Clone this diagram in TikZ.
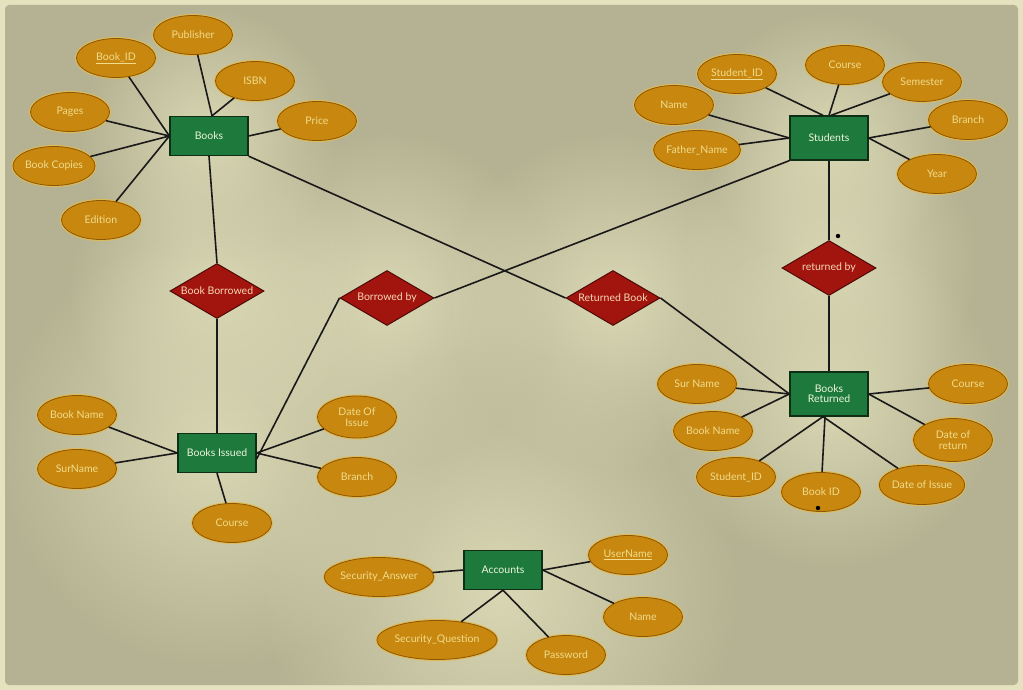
\documentclass[tikz,border=0pt]{standalone}
\usepackage{fontspec}
\setmainfont{Lato}
\usetikzlibrary{shapes.geometric,fadings}

\definecolor{bgframe}{HTML}{E6E2C0}
\definecolor{bgmid}{HTML}{B5B293}
\definecolor{bglight}{HTML}{DAD7B4}
\definecolor{entfill}{HTML}{1E7A3C}
\definecolor{entbd}{HTML}{0E2E16}
\definecolor{enttext}{HTML}{ECF4DC}
\definecolor{attrfill}{HTML}{C8870F}
\definecolor{attrbd}{HTML}{8E5606}
\definecolor{attrglow}{HTML}{DDBB55}
\definecolor{attrtext}{HTML}{F0DC8C}
\definecolor{relfill}{HTML}{A2150F}
\definecolor{relbd}{HTML}{4E0905}
\definecolor{reltext}{HTML}{F6D8B4}

\tikzfading[name=softglow, inner color=transparent!0, outer color=transparent!100]

\begin{document}
\begin{tikzpicture}[x=1pt,y=-1pt,
  lbl/.style={font=\fontsize{10.5}{12}\selectfont},
  entity/.style={rectangle, draw=entbd, fill=entfill, line width=1.3pt,
    minimum width=78pt, minimum height=39pt, inner sep=1pt, align=center,
    text=enttext, lbl},
  attr/.style={ellipse, preaction={draw=attrglow, line width=3pt},
    draw=attrbd, fill=attrfill, line width=0.8pt,
    minimum width=79pt, minimum height=39pt, inner sep=0pt, align=center,
    text=attrtext, lbl},
  rel/.style={diamond, draw=relbd, fill=relfill, line width=1pt, aspect=2,
    minimum width=94pt, minimum height=55pt, inner sep=0pt,
    text=reltext, lbl},
  link/.style={draw=black!90, line width=1.6pt},
  halo/.style={fill=bglight, path fading=softglow}]

% background and frame
\useasboundingbox (0,0) rectangle (1023,690);
\fill[bgframe] (0,0) rectangle (1023,690);
\fill[bgmid, rounded corners=4pt] (5,5) rectangle (1018,685);
\begin{scope}
\clip[rounded corners=4pt] (5,5) rectangle (1018,685);
\path[halo] (217,450) circle (220);
\path[halo] (500,590) circle (240);
\path[halo] (387,300) circle (170);
\path[halo] (613,300) circle (170);
\path[halo] (829,262) circle (150);
\path[halo] (217,290) circle (150);
\path[halo] (829,400) circle (170);
\path[halo] (829,140) circle (130);
\path[halo] (209,136) circle (130);
\end{scope}

% entities
\node[entity] (books) at (209,136) {Books};
\node[entity, minimum height=44pt] (students) at (829,138) {Students};
\node[entity] (issued) at (217,453) {Books Issued};
\node[entity, minimum height=44pt] (returned) at (829,394) {Books\\[-2pt]Returned};
\node[entity] (accounts) at (503,570) {Accounts};

% relationships
\node[rel] (bookborrowed) at (217,291) {Book Borrowed};
\node[rel] (borrowedby) at (387,298) {Borrowed by};
\node[rel] (returnedbook) at (613,298) {Returned Book};
\node[rel] (returnedby) at (829,268) {returned by};

% attributes of Books
\node[attr] (bookid) at (116,58) {\underline{Book\_ID}};
\node[attr] (publisher) at (193,35) {Publisher};
\node[attr] (isbn) at (255,81) {ISBN};
\node[attr] (price) at (317,121) {Price};
\node[attr] (pages) at (70,112) {Pages};
\node[attr] (copies) at (54,166) {Book Copies};
\node[attr] (edition) at (101,220) {Edition};

% attributes of Students
\node[attr] (studentid) at (737,74) {\underline{Student\_ID}};
\node[attr] (scourse) at (845,65) {Course};
\node[attr] (semester) at (922,82) {Semester};
\node[attr] (sbranch) at (968,120) {Branch};
\node[attr] (year) at (937,174) {Year};
\node[attr] (sname) at (674,105) {Name};
\node[attr] (father) at (697,150) {Father\_Name};

% attributes of Books Issued
\node[attr] (ibookname) at (77,415) {Book Name};
\node[attr] (isurname) at (77,469) {SurName};
\node[attr] (icourse) at (232,523) {Course};
\node[attr, minimum height=42pt] (idate) at (357,417) {Date Of\\[-1pt]Issue};
\node[attr] (ibranch) at (357,477) {Branch};

% attributes of Books Returned
\node[attr] (rsurname) at (697,384) {Sur Name};
\node[attr] (rbookname) at (713,431) {Book Name};
\node[attr] (rstudentid) at (736,477) {Student\_ID};
\node[attr] (rbookid) at (821,492) {Book ID};
\node[attr] (rdateissue) at (922,485) {Date of Issue};
\node[attr, minimum height=43pt] (rdatereturn) at (953,440) {Date of\\[-1pt]return};
\node[attr] (rcourse) at (968,384) {Course};

% attributes of Accounts
\node[attr] (username) at (628,555) {\underline{UserName}};
\node[attr] (aname) at (643,617) {Name};
\node[attr] (password) at (566,655) {Password};
\node[attr, minimum width=100pt] (secq) at (437,640) {Security\_Question};
\node[attr, minimum width=92pt] (seca) at (379,577) {Security\_Answer};

% small marks
\fill[black] (838,236) circle (2.2);
\fill[black] (818,508) circle (2.2);

% Books
\draw[link] (bookid) -- (books.west);
\draw[link] (pages) -- (books.west);
\draw[link] (copies) -- (books.west);
\draw[link] (edition) -- (books.west);
\draw[link] (publisher) -- ([xshift=3pt]books.north);
\draw[link] (isbn) -- ([xshift=3pt]books.north);
\draw[link] (price) -- (books.east);
\draw[link] (books.south) -- (bookborrowed.north);
\draw[link] (bookborrowed.south) -- (issued.north);
\draw[link] (books.south east) -- (returnedbook.west);
\draw[link] (returnedbook.east) -- (returned.west);
% Students
\draw[link] (studentid) -- ([xshift=-6pt]students.north);
\draw[link] (scourse) -- (students.north);
\draw[link] (semester) -- ([xshift=2pt]students.north);
\draw[link] (sname) -- (students.west);
\draw[link] (father) -- (students.west);
\draw[link] (sbranch) -- (students.east);
\draw[link] (year) -- (students.east);
\draw[link] (students.south west) -- (borrowedby.east);
\draw[link] (borrowedby.west) -- ([yshift=-6pt]issued.east);
\draw[link] (students.south) -- (returnedby.north);
\draw[link] (returnedby.south) -- (returned.north);
% Books Issued
\draw[link] (ibookname) -- (issued.west);
\draw[link] (isurname) -- (issued.west);
\draw[link] (icourse) -- (issued.south);
\draw[link] (idate) -- (issued.east);
\draw[link] (ibranch) -- (issued.east);
% Books Returned
\draw[link] (rsurname) -- (returned.west);
\draw[link] (rbookname) -- (returned.west);
\draw[link] (rstudentid) -- ([xshift=-6pt]returned.south);
\draw[link] (rbookid) -- ([xshift=-4pt]returned.south);
\draw[link] (rdateissue) -- ([xshift=-6pt]returned.south);
\draw[link] (rcourse) -- (returned.east);
\draw[link] (rdatereturn) -- (returned.east);
% Accounts
\draw[link] (seca) -- (accounts.west);
\draw[link] (secq) -- (accounts.south);
\draw[link] (password) -- (accounts.south);
\draw[link] (username) -- (accounts.east);
\draw[link] (aname) -- (accounts.east);
\end{tikzpicture}
\end{document}
